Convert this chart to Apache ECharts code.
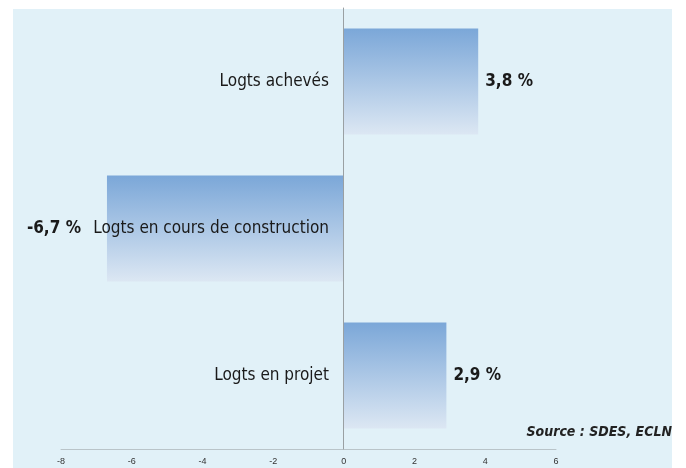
<!DOCTYPE html>
<html>
<head>
<meta charset="utf-8">
<script src="https://cdn.jsdelivr.net/npm/echarts@6/dist/echarts.min.js"></script>
<style>
  html, body { margin: 0; padding: 0; background: #fff; }
  #chart { width: 686px; height: 468px; }
</style>
</head>
<body>
<div id="chart"></div>
<script>
// catégories (de bas en haut) et évolutions en %
var categories = ['Logts en projet', 'Logts en cours de construction', 'Logts achevés'];
var values = [2.9, -6.7, 3.8];
var xTicks = [-8, -6, -4, -2, 0, 2, 4, 6];
var sourceText = 'Source : SDES, ECLN';

var myChart = echarts.init(document.getElementById('chart'));

var barData = values.map(function (v) {
  return {
    value: v,
    label: { position: v < 0 ? 'left' : 'right', distance: v < 0 ? 26 : 7 }
  };
});

myChart.setOption({
  backgroundColor: '#fff',
  animation: false,
  graphic: [
    {
      type: 'rect',
      z: -10,
      shape: { x: 13, y: 9, width: 659, height: 459 },
      style: { fill: '#e1f1f8' }
    },
    {
      type: 'text',
      right: 14,
      top: 425,
      style: {
        text: sourceText,
        font: 'italic bold 14px "Liberation Sans Narrow", "DejaVu Sans Condensed", sans-serif',
        fill: '#222'
      }
    }
  ],
  grid: { left: 61, right: 130, top: 8, bottom: 19 },
  xAxis: {
    type: 'value',
    min: xTicks[0],
    max: xTicks[xTicks.length - 1],
    interval: 2,
    axisLine: { show: true, lineStyle: { color: '#b9c4c9' } },
    axisTick: { show: false },
    splitLine: { show: false },
    axisLabel: { color: '#333', fontSize: 9, margin: 8 }
  },
  yAxis: {
    type: 'category',
    data: categories,
    offset: -282, // placer l'axe sur le zéro
    z: 10,
    axisLine: { show: true, lineStyle: { color: '#9aa0a3' } },
    axisTick: { show: false },
    axisLabel: {
      color: '#1a1a1a',
      fontSize: 17,
      fontFamily: '"Liberation Sans Narrow", "DejaVu Sans Condensed", sans-serif',
      margin: 14
    }
  },
  series: [{
    type: 'bar',
    data: barData,
    barWidth: 106,
    z: 1,
    itemStyle: {
      color: new echarts.graphic.LinearGradient(0, 0, 0, 1, [
        { offset: 0, color: '#7ba7d8' },
        { offset: 1, color: '#dce7f3' }
      ])
    },
    label: {
      show: true,
      color: '#1a1a1a',
      fontSize: 17,
      fontWeight: 'bold',
      fontFamily: '"Liberation Sans Narrow", "DejaVu Sans Condensed", sans-serif',
      formatter: function (p) {
        return String(p.value).replace('.', ',') + ' %';
      }
    }
  }]
});
</script>
</body>
</html>
